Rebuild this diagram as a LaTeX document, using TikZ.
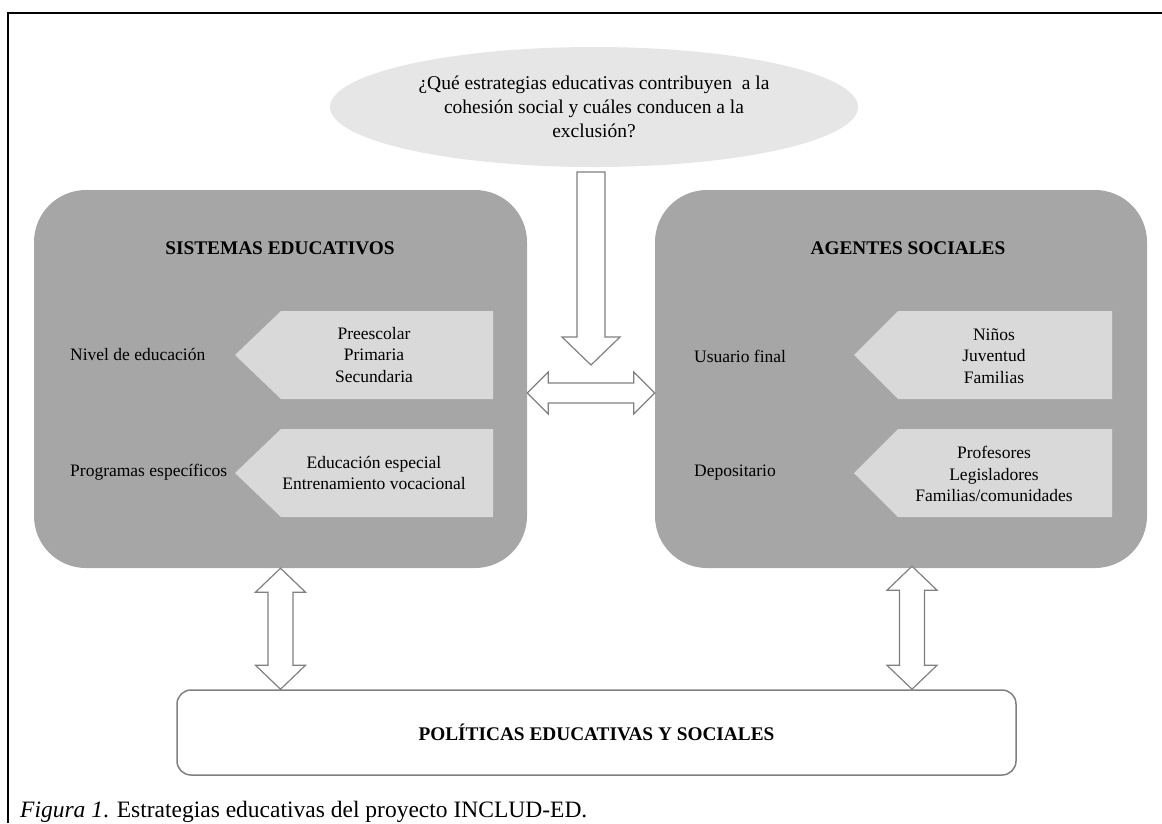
\documentclass[tikz,border=0pt]{standalone}
\usepackage{fontspec}
\setmainfont{Liberation Serif}
\usetikzlibrary{calc,shapes.geometric}

\definecolor{boxgray}{RGB}{166,166,166}
\definecolor{chevgray}{RGB}{217,217,217}
\definecolor{ellgray}{RGB}{231,230,230}
\definecolor{arrowgray}{RGB}{128,128,128}

% block arrows, drawn as outlined polygons between two named points
\newcommand{\blockdown}[2]{% #1 top centre, #2 tip
  \draw[blockarrow] ($(#1)+(-14,0)$) -- ($(#1)+(14,0)$) -- ($(#2)+(14,-28)$)
    -- ($(#2)+(29,-28)$) -- (#2) -- ($(#2)+(-29,-28)$) -- ($(#2)+(-14,-28)$) -- cycle;}
\newcommand{\blockhoriz}[2]{% #1 left tip, #2 right tip
  \draw[blockarrow] (#1) -- ($(#1)+(21,-21)$) -- ($(#1)+(21,-10)$) -- ($(#2)+(-21,-10)$)
    -- ($(#2)+(-21,-21)$) -- (#2) -- ($(#2)+(-21,21)$) -- ($(#2)+(-21,10)$)
    -- ($(#1)+(21,10)$) -- ($(#1)+(21,21)$) -- cycle;}
\newcommand{\blockvert}[2]{% #1 top tip, #2 bottom tip
  \draw[blockarrow] (#1) -- ($(#1)+(25,24)$) -- ($(#1)+(12.5,24)$) -- ($(#2)+(12.5,-24)$)
    -- ($(#2)+(25,-24)$) -- (#2) -- ($(#2)+(-25,-24)$) -- ($(#2)+(-12.5,-24)$)
    -- ($(#1)+(-12.5,24)$) -- ($(#1)+(-25,24)$) -- cycle;}

\tikzset{
  bigbox/.style={fill=boxgray, rounded corners=52pt, minimum width=493pt,
    minimum height=378pt, inner sep=0pt},
  chev/.style={fill=chevgray},
  blockarrow/.style={draw=arrowgray, fill=white, line width=1.2pt, line join=miter},
  body/.style={font=\fontsize{17.5}{21.5}\selectfont, align=center, inner sep=0pt},
  label/.style={font=\fontsize{17.5}{21.5}\selectfont, anchor=west, inner sep=0pt},
  heading/.style={font=\fontsize{19.3}{23}\selectfont\bfseries, inner sep=0pt},
}

\begin{document}
\begin{tikzpicture}[x=1pt,y=-1pt]
\useasboundingbox (0,0) rectangle (1162,823);

% frame lines
\draw[line width=2pt] (8,823) -- (8,13) -- (1162,13);

% question
\node[ellipse, fill=ellgray, minimum width=528pt, minimum height=120pt, inner sep=0pt,
      font=\fontsize{19.5}{24}\selectfont, align=center] (q) at (594,107)
  {¿Qué estrategias educativas contribuyen\ \ a la\\cohesión social y cuáles conducen a la\\exclusión?};

% main blocks
\node[bigbox] (sis) at (280.5,379) {};
\node[bigbox, minimum width=492pt] (age) at (901,379) {};

\node[heading] (sist) at (280,248) {SISTEMAS EDUCATIVOS};
\node[heading] (aget) at (908,248) {AGENTES SOCIALES};

% pointed panels, left block
\fill[chev] (235,355) -- (281,311) -- (493,311) -- (493,399) -- (281,399) -- cycle;
\fill[chev] (235,473) -- (281,429) -- (493,429) -- (493,517) -- (281,517) -- cycle;
% pointed panels, right block
\fill[chev] (854,355) -- (898,311) -- (1112,311) -- (1112,399) -- (898,399) -- cycle;
\fill[chev] (854,473) -- (898,429) -- (1112,429) -- (1112,517) -- (898,517) -- cycle;

\node[label] (niv) at (70,354) {Nivel de educación};
\node[label] (prog) at (70,472) {Programas específicos};
\node[body] (niv1) at (374,355) {Preescolar\\Primaria\\Secundaria};
\node[body] (prog1) at (374,473) {Educación especial\\Entrenamiento vocacional};

\node[label] (usu) at (694,356) {Usuario final};
\node[label] (dep) at (694,473) {Depositario};
\node[body] (usu1) at (994,356) {Niños\\Juventud\\Familias};
\node[body] (dep1) at (994,474) {Profesores\\Legisladores\\Familias/comunidades};

% policy box
\node[draw=arrowgray, line width=1.5pt, rounded corners=14pt, minimum width=839pt,
      minimum height=85pt, inner sep=0pt, font=\fontsize{19.3}{23}\selectfont\bfseries]
  (pol) at (596.5,732.5) {POLÍTICAS EDUCATIVAS Y SOCIALES};

% connecting block arrows
\coordinate (dtop) at (591,172);
\coordinate (dtip) at (591,365);
\blockdown{dtop}{dtip}

\coordinate (hl) at ($(sis.east)+(0,14)$);
\coordinate (hr) at ($(age.west)+(0,14)$);
\blockhoriz{hl}{hr}

\coordinate (vlt) at (sis.south);
\coordinate (vlb) at (vlt |- pol.north);
\blockvert{vlt}{vlb}

\coordinate (vrt) at ($(age.south)+(11,-2)$);
\coordinate (vrb) at (vrt |- pol.north);
\blockvert{vrt}{vrb}

% caption
\node[anchor=base west, inner sep=0pt, font=\fontsize{23.5}{28}\selectfont] (cap) at (20,817)
  {\textit{Figura 1}. Estrategias educativas del proyecto INCLUD-ED.};
\end{tikzpicture}
\end{document}
